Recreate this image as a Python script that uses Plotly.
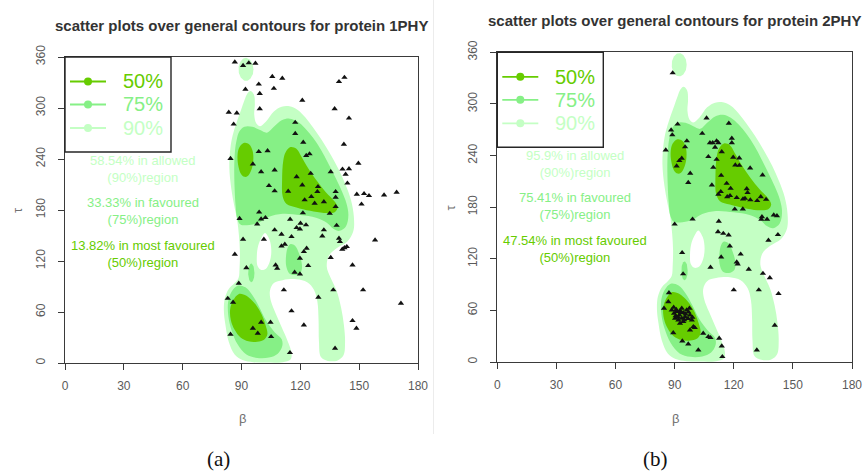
import numpy as np
import plotly.graph_objects as go

# ---------------------------------------------------------------------------
# Residue (beta, tau) pairs for the two proteins
# ---------------------------------------------------------------------------
A_BETA = [86.6, 90.8, 93.7, 97.1, 105.7, 110.8, 92, 98.8, 99.3, 106.5, 99.3, 121, 139.7, 142.5,
          137.5, 144.8, 83.5, 87.6, 86, 117.4, 117.4, 121.5, 123, 124.7, 142.2, 149.6, 84.4, 98.8,
          103.3, 95.8, 100, 106.9, 118.1, 121, 125.3, 129, 128.7, 135.5, 141.5, 144.8, 143.1, 144,
          104, 106.9, 113.8, 122.2, 125.6, 127.3, 132, 138, 138, 138, 135, 121.3, 148.8, 152.5,
          155, 162.7, 169.1, 151.2, 99, 89, 98, 100, 102.2, 114.8, 106.9, 118.1, 119.8, 120.1,
          122.9, 132, 138.5, 131.2, 110.4, 115.5, 101.4, 90.8, 110.4, 112.1, 123.2, 121.8, 139.7,
          140.2, 141.4, 143.7, 142.5, 158.1, 86.6, 119.8, 135.5, 146.6, 124, 107.4, 108.2, 92.5,
          117.1, 119.8, 88.6, 111.6, 129.2, 136.8, 152, 171.3, 83, 85.7, 115.5, 100, 104.8, 95.8,
          98.3, 105.1, 84.4, 121.8, 146.6, 148.6, 114.7, 137.7]
A_TAU = [354, 350, 353, 352.6, 337, 335, 322, 328, 317, 323, 299, 309, 331, 336,
         299, 288, 295, 294, 281, 283, 270, 259.6, 244, 246, 257.3, 235, 240.5, 248.6,
         249.6, 234, 225, 227, 219, 209.4, 223, 207.4, 201.5, 225, 228, 228.5, 222, 211.5,
         208.6, 202.4, 202, 191.8, 195.7, 187.9, 189.6, 201.5, 195, 183.9, 176, 176.5, 198.4, 199.2,
         196.8, 197.6, 200.8, 186.8, 177.5, 170, 163.5, 169.4, 171, 169, 156.5, 159.2, 157.6, 164.3,
         162.4, 156.5, 161.8, 149.4, 151.4, 148.6, 145.5, 145.5, 137.6, 139.6, 135, 131, 146.7,
         142.7, 133.8, 136.8, 135.5, 144.6, 127.8, 123.2, 124, 115.3, 114.5, 115.3, 111.4, 112,
         106.7, 104.7, 93.7, 85.9, 77.3, 85.9, 85.9, 70.2, 76, 71.4, 61.2, 47.8, 47.8, 40.8,
         35, 31, 33.7, 44.7, 49.8, 40.8, 12.1, 17.3]

B_BETA = [89, 106.2, 91.5, 88.2, 88.8, 117.5, 85.5, 96.2, 95.3, 104, 107.9, 109.3, 111.3, 112.2,
          110.5, 119, 119, 113.9, 93.6, 92.4, 91, 107.1, 111.3, 109.6, 119.7, 122.8, 120.8, 122.8,
          128.3, 97.9, 96.9, 108.9, 113.6, 134.6, 116.4, 118.4, 113.4, 116.7, 118.1, 121.5, 112.2,
          126.6, 127, 125.7, 128.4, 131.9, 133.7, 136.4, 124.7, 120.5, 124.6, 134.3, 134, 136.9,
          140.3, 141.9, 90, 99.1, 112.4, 112, 114.7, 117.4, 142.4, 137.6, 118, 93.8, 123.5, 113.6,
          121.5, 122, 108.2, 127.6, 134.8, 138.3, 94.3, 120, 132.7, 142.7, 140.8, 131.7, 114.2,
          87.1, 86.8, 84.6, 88.5, 89.7, 91, 92.4, 93.6, 94.4, 90.2, 91.9, 93.6, 95.3, 96.1, 97.5,
          97.8, 98.7, 94.4, 92.7, 99.5, 97.8, 89.3, 104.5, 107.1, 108.2, 93.9, 96.9, 102, 112.6,
          113.9, 100.2, 90.5, 95.5, 92.8, 96.8, 89.5, 91.8, 94.8, 97, 99, 93, 90.8]
B_TAU = [336, 283.5, 276.5, 269.6, 264, 277.5, 246.3, 257, 250, 265.7, 254.8, 254.8, 257, 254.8,
         249.5, 260, 254.8, 244.4, 236.7, 234, 227.7, 238.6, 235.5, 226.2, 238, 237, 229, 228.5,
         225.5, 219.3, 208.6, 205.7, 216.8, 217.3, 207.6, 201.8, 198, 192, 193.3, 191, 194.9,
         201.3, 196.8, 190.2, 188.4, 187.5, 192, 189, 189.4, 177.6, 177.8, 168.8, 165.8, 165.8,
         170.8, 170, 160.2, 166, 163.6, 151.4, 149.5, 147.6, 148, 141.4, 134.8, 127, 125.3, 122,
         116.2, 113.9, 110, 107.7, 103, 97.8, 102.3, 83.7, 83.7, 79.4, 42.6, 13.9, 6.2,
         80.5, 70, 62.4, 60.4, 56.6, 58.5, 54.6, 62.4, 57.3, 50.8, 48.8, 50.8, 52.6, 60.4, 62.4,
         54.6, 48.8, 46.8, 45, 41, 37.2, 34, 33.3, 29.4, 28.3, 24.4, 20.9, 13.9, 27.5,
         18.5, 39.9, 53.5, 55.6, 59.5, 50.5, 63.5, 52, 49, 58, 52, 57, 61]

# ---------------------------------------------------------------------------
# General density contours (beta, tau outlines), shared by both panels
# ---------------------------------------------------------------------------
LIGHT_MAIN_BETA = [94.5, 96.3, 96.8, 96.5, 97.5, 99.5, 102.5, 106.5, 110.5, 114.5, 118.5, 122.5,
                   126.5, 131, 135.5, 139.5, 143, 145.8, 147.3, 147, 144, 138.5, 134.5, 133.5,
                   135.5, 138.5, 140.8, 142.2, 142.8, 142, 139, 134, 130.5, 129.5, 129.3, 128.7,
                   127, 123.5, 118, 111, 106.5, 104.5, 105, 107.5, 110.5, 113.5, 115.5, 115, 111,
                   103, 96, 90.5, 86.5, 83.5, 81.8, 81, 81.5, 83.5, 86.5, 88.5, 89, 89.2, 88.7,
                   87.8, 86.3, 84.8, 83.8, 84.3, 85.5, 87.5, 89.8, 91.5, 93]
LIGHT_MAIN_TAU = [320, 316, 305, 292, 282, 278.5, 284, 296, 301.5, 302, 298, 289,
                  277, 262, 245, 228, 210, 192, 172, 155, 143, 135, 126, 113,
                  100, 85, 65, 45, 25, 9, 3, 2.5, 7, 25, 50, 72,
                  86, 95, 98.5, 97.5, 94, 85, 73, 58, 42, 26, 12, 4, 1,
                  0.5, 1, 3.5, 10, 25, 45, 62, 76, 87, 94, 100, 112, 130, 150,
                  168, 185, 205, 230, 252, 268, 283, 298, 309, 317]

LIGHT_HOLE_BETA = [102, 104.3, 105.2, 104.5, 102.5, 100, 98.2, 97.8, 98.5, 100.3]
LIGHT_HOLE_TAU = [153, 145, 132, 120, 111, 109.5, 114, 125, 138, 148]

# elliptical pieces: centre beta, centre tau, half-width, half-height
LIGHT_CAP = [92.3, 345.5, 3.8, 13.5]
MID_SLIVER = [95.0, 106.0, 1.6, 11.0]

MID_MAIN_BETA = [87.5, 88.8, 91.5, 95.5, 99.5, 103, 106.5, 110.5, 114.5, 118.5, 122.5, 126.5,
                 130.5, 134, 137.5, 141, 143.5, 144.5, 143.3, 140, 136.8, 133.5, 128, 120, 111,
                 104, 99.5, 94, 89.5, 87.8, 87, 86.5, 86.3, 86.7]
MID_MAIN_TAU = [262, 272, 278, 278, 274, 271, 278, 285.5, 287.5, 284, 276, 265,
                251, 236, 220, 203, 188, 174, 161, 155.5, 158, 165, 171, 174, 175.5,
                172, 166, 162.5, 163, 170, 185, 205, 230, 250]

MID_LOW_BETA = [88, 85, 83.2, 83.3, 85, 88, 92.5, 98, 104, 108.5, 110.8, 110.5, 107, 102.5,
                99, 95.5, 92]
MID_LOW_TAU = [91, 84, 72, 55, 38, 22, 10, 6, 6.5, 11, 20, 28, 36, 50, 66, 80, 89]

MID_SPOT_BETA = [115, 117.3, 119.3, 120.8, 120.3, 117.5, 114.5, 112.8, 112.8, 113.6]
MID_SPOT_TAU = [140, 138, 129, 116, 107, 103.5, 105, 114, 128, 136]

DARK_MAIN_BETA = [111.3, 112.5, 115, 118, 120.5, 124, 128.5, 133, 137.5, 139, 137.5, 132, 125,
                  118, 113, 111, 110.7]
DARK_MAIN_TAU = [238, 248, 254, 252, 243, 229, 214, 201, 190, 183, 177.5, 176.5, 179,
                 183, 187, 196, 215]

DARK_LOW_BETA = [88.5, 85.8, 84.2, 84.6, 86.5, 89.5, 93.5, 98, 101.8, 103.2, 102.2, 100.3,
                 97.5, 94, 91]
DARK_LOW_TAU = [81, 74, 63, 50, 39, 30, 25.5, 25, 28, 34, 45, 57, 68, 76.5, 80.5]

DARK_TOP_BETA = [91.5, 94, 95.7, 96, 95, 93.2, 91.5, 89.6, 88.3, 88, 89]
DARK_TOP_TAU = [259, 257, 249, 238, 227, 220, 219, 223, 233, 245, 254]

LEVELS = ["50%", "75%", "90%"]
LEVEL_COLORS = ["#66CC00", "#86F086", "#C4FFC4"]
REGION_NAMES = ["most favoured", "favoured", "allowed"]

A_SHARES = ["13.82", "33.33", "58.54"]
B_SHARES = ["47.54", "75.41", "95.9"]

TITLES = ["scatter plots over general contours for protein 1PHY",
          "scatter plots over general contours for protein 2PHY"]
CAPTIONS = ["(a)", "(b)"]

BETA_TICKS = [0, 30, 60, 90, 120, 150, 180]
TAU_TICKS = [0, 60, 120, 180, 240, 300, 360]

# ---------------------------------------------------------------------------
# Page geometry (pixels) of the two plotting boxes
# ---------------------------------------------------------------------------
W, H = 866, 474
PANELS = [
    dict(x0=65.0, x1=418.0, y0=57.0, y1=363.0, xa="x", ya="y"),
    dict(x0=497.3, x1=852.0, y0=52.3, y1=362.0, xa="x2", ya="y2"),
]

fig = go.Figure()

DARK, MID, LIGHT = LEVEL_COLORS
WHITE = "#FFFFFF"


def add_region(beta, tau, color, p, spline=True):
    b = list(beta) + [beta[0]]
    t = list(tau) + [tau[0]]
    fig.add_trace(go.Scatter(
        x=b, y=t, mode="lines",
        line=dict(shape="spline" if spline else "linear", smoothing=1.0, width=0, color=color),
        fill="toself", fillcolor=color, hoverinfo="skip", showlegend=False,
        xaxis=p["xa"], yaxis=p["ya"]))


def add_ellipse(spec, color, p):
    cx, cy, rx, ry = spec
    th = np.linspace(0, 2 * np.pi, 72, endpoint=False)
    add_region(list(cx + rx * np.cos(th)), list(cy + ry * np.sin(th)), color, p, spline=False)


for k, (p, bx, ty) in enumerate(zip(PANELS, [A_BETA, B_BETA], [A_TAU, B_TAU])):
    # 90% region
    add_region(LIGHT_MAIN_BETA, LIGHT_MAIN_TAU, LIGHT, p)
    add_ellipse(LIGHT_CAP, LIGHT, p)
    add_region(LIGHT_HOLE_BETA, LIGHT_HOLE_TAU, WHITE, p)
    # 75% region
    add_region(MID_MAIN_BETA, MID_MAIN_TAU, MID, p)
    add_region(MID_LOW_BETA, MID_LOW_TAU, MID, p)
    add_region(MID_SPOT_BETA, MID_SPOT_TAU, MID, p)
    add_ellipse(MID_SLIVER, MID, p)
    # 50% region
    add_region(DARK_MAIN_BETA, DARK_MAIN_TAU, DARK, p)
    add_region(DARK_LOW_BETA, DARK_LOW_TAU, DARK, p)
    add_region(DARK_TOP_BETA, DARK_TOP_TAU, DARK, p)
    # residues
    fig.add_trace(go.Scatter(
        x=bx, y=ty, mode="markers",
        marker=dict(symbol="triangle-up", size=5.5, color="#111111", line=dict(width=0)),
        showlegend=False, xaxis=p["xa"], yaxis=p["ya"],
        hovertemplate="β=%{x}<br>τ=%{y}<extra></extra>"))

axis_common = dict(
    showgrid=False, zeroline=False, showline=True, mirror=True,
    linecolor="#3a3a3a", linewidth=1.4, ticks="outside", ticklen=6, tickwidth=1.2,
    tickcolor="#3a3a3a", tickfont=dict(family="Liberation Sans, Arial", size=12, color="#5a5a5a"),
    automargin=False, fixedrange=True,
)

layout_axes = {}
for i, p in enumerate(PANELS):
    sfx = "" if i == 0 else str(i + 1)
    layout_axes["xaxis" + sfx] = dict(
        axis_common, domain=[p["x0"] / W, p["x1"] / W], range=[0, 180],
        tickmode="array", tickvals=BETA_TICKS, anchor="y" + sfx, ticklabelstandoff=5)
    layout_axes["yaxis" + sfx] = dict(
        axis_common, domain=[1 - p["y1"] / H, 1 - p["y0"] / H], range=[0, 360],
        tickmode="array", tickvals=TAU_TICKS, tickangle=-90, anchor="x" + sfx,
        ticklabelstandoff=8)

fig.update_layout(
    width=W, height=H, autosize=False,
    margin=dict(l=0, r=0, t=0, b=0),
    paper_bgcolor="white", plot_bgcolor="white",
    showlegend=False,
    **layout_axes,
)

shapes = []
annotations = []

for i, p in enumerate(PANELS):
    pw = p["x1"] - p["x0"]
    ph = p["y1"] - p["y0"]
    xr = p["xa"] + " domain"
    yr = p["ya"] + " domain"

    def fx(d):
        return d / pw

    def fy(d):
        return 1 - d / ph

    # legend box
    shapes.append(dict(type="rect", xref=xr, yref=yr, x0=0, x1=fx(106), y0=fy(95), y1=1,
                       line=dict(color="#262626", width=1.4), fillcolor="rgba(0,0,0,0)"))
    for lvl, col, row in zip(LEVELS, LEVEL_COLORS, [24.5, 47.5, 71]):
        shapes.append(dict(type="line", xref=xr, yref=yr, x0=fx(5), x1=fx(41), y0=fy(row), y1=fy(row),
                           line=dict(color=col, width=1.8)))
        shapes.append(dict(type="circle", xref=xr, yref=yr, x0=fx(19), x1=fx(27),
                           y0=fy(row + 4), y1=fy(row - 4), fillcolor=col, line=dict(width=0)))
        annotations.append(dict(xref=xr, yref=yr, x=fx(77.5), y=fy(row), text=lvl, showarrow=False,
                                xanchor="center", yanchor="middle",
                                font=dict(family="Liberation Sans, Arial", size=20, color=col)))

    # share of residues in each region
    shares = A_SHARES if i == 0 else B_SHARES
    for j, (share, name, lvl, col, row) in enumerate(
            zip(shares[::-1], REGION_NAMES[::-1], LEVELS[::-1], LEVEL_COLORS[::-1], [112, 153.5, 196.5])):
        annotations.append(dict(xref=xr, yref=yr, x=fx(78), y=fy(row),
                                text=f"{share}% in {name}<br>({lvl})region", showarrow=False,
                                xanchor="center", yanchor="middle", align="center",
                                font=dict(family="Liberation Sans, Arial", size=13, color=col)))

    cx = (p["x0"] + p["x1"]) / 2
    # panel title
    annotations.append(dict(xref="paper", yref="paper", x=cx / W, y=1 - (25 - 4.7 * i) / H,
                            text=f"<b>{TITLES[i]}</b>", showarrow=False,
                            xanchor="center", yanchor="middle",
                            font=dict(family="Liberation Sans, Arial", size=15, color="#333333")))
    # axis titles
    annotations.append(dict(xref="paper", yref="paper", x=(cx + 0.5) / W, y=1 - 418.5 / H,
                            text="β", showarrow=False, xanchor="center", yanchor="middle",
                            font=dict(family="Liberation Sans, Arial", size=13, color="#707070")))
    annotations.append(dict(xref="paper", yref="paper", x=(p["x0"] - 47) / W,
                            y=1 - ((p["y0"] + p["y1"]) / 2) / H, text="τ", textangle=-90,
                            showarrow=False, xanchor="center", yanchor="middle",
                            font=dict(family="Liberation Sans, Arial", size=13, color="#707070")))
    # sub-figure caption
    annotations.append(dict(xref="paper", yref="paper", x=(cx - 23 + 4 * i) / W, y=1 - 459 / H,
                            text=CAPTIONS[i], showarrow=False, xanchor="center", yanchor="middle",
                            font=dict(family="Liberation Serif, DejaVu Serif, serif", size=21,
                                      color="#111111")))

# faint seam between the two sub-figures
shapes.append(dict(type="line", xref="paper", yref="paper", x0=433.5 / W, x1=433.5 / W,
                   y0=1 - 434 / H, y1=1, line=dict(color="#ececec", width=1)))

fig.update_layout(shapes=shapes, annotations=annotations)

fig.write_html("out.html")
